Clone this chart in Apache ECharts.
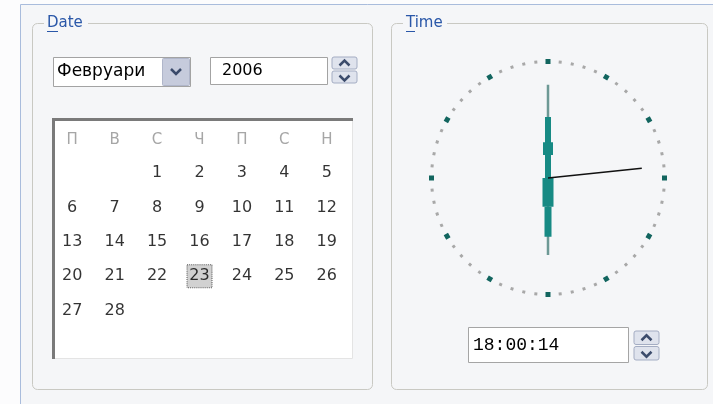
<!DOCTYPE html>
<html>
<head>
<meta charset="utf-8">
<script src="https://cdn.jsdelivr.net/npm/echarts@6/dist/echarts.min.js"></script>
<style>
  html, body { margin: 0; padding: 0; background: #fcfcfd; }
  #main { width: 713px; height: 404px; }
</style>
</head>
<body>
<div id="main"></div>
<script>
// data
var weekDays = ['П', 'В', 'С', 'Ч', 'П', 'С', 'Н'];
var weekRows = ['0', '1', '2', '3', '4', '5'];
var monthName = 'Февруари';
var yearText = '2006';
var days = [1, 2, 3, 4, 5, 6, 7, 8, 9, 10, 11, 12, 13, 14,
  15, 16, 17, 18, 19, 20, 21, 22, 23, 24, 25, 26, 27, 28];
var firstWeekday = 2; // 1 февруари 2006 е сряда
var selectedDay = 23;
var timeHours = 18;
var timeMinutes = 0;
var timeSeconds = 14;

var uiFont = '"DejaVu Sans", sans-serif';
var panelBg = '#f5f6f8';

function cellOf(d) {
  var p = d - 1 + firstWeekday;
  return [p % 7, Math.floor(p / 7)];
}
var dayData = days.map(function (d) {
  return { name: String(d), value: cellOf(d) };
});

function pad2(n) { return (n < 10 ? '0' : '') + n; }
var timeText = timeHours + ':' + pad2(timeMinutes) + ':' + pad2(timeSeconds);

// hand angles on a 0..60 dial
var minuteAngle = timeMinutes;
var hourAngle = (timeHours % 12) * 5 + timeMinutes / 12;
var secondAngle = timeSeconds;

function hand(a, r0, r1, width, color, z) {
  return {
    type: 'line', coordinateSystem: 'polar', polarIndex: 0,
    symbol: 'none', silent: true, z: z,
    lineStyle: { width: width, color: color, cap: 'butt' },
    data: [[r0, a], [r1, a]]
  };
}

function spin(x, y, w, h) {
  var half = h / 2;
  var cx = x + w / 2;
  return [
    { type: 'rect', shape: { x: x, y: y, width: w, height: half - 1, r: 2 },
      style: { fill: '#dfe3ed', stroke: '#a4adc3' }, z: -5 },
    { type: 'rect', shape: { x: x, y: y + half + 1, width: w, height: half - 1, r: 2 },
      style: { fill: '#dfe3ed', stroke: '#a4adc3' }, z: -5 },
    { type: 'polyline', shape: { points: [[cx - 5, y + half / 2 + 2], [cx, y + half / 2 - 3], [cx + 5, y + half / 2 + 2]] },
      style: { stroke: '#3c4c6c', lineWidth: 2.5, fill: 'none' }, z: -4 },
    { type: 'polyline', shape: { points: [[cx - 5, y + half + half / 2 - 1], [cx, y + half + half / 2 + 4], [cx + 5, y + half + half / 2 - 1]] },
      style: { stroke: '#3c4c6c', lineWidth: 2.5, fill: 'none' }, z: -4 }
  ];
}

var graphics = [
  { type: 'rect', shape: { x: 20.5, y: 4.5, width: 700, height: 420 },
    style: { fill: panelBg, stroke: '#a9bcdc' }, z: -10 },
  // group boxes
  { type: 'rect', shape: { x: 32.5, y: 23.5, width: 340, height: 366, r: 5 },
    style: { fill: 'none', stroke: '#c9c9c3' }, z: -9 },
  { type: 'rect', shape: { x: 391.5, y: 23.5, width: 316, height: 366, r: 5 },
    style: { fill: 'none', stroke: '#c9c9c3' }, z: -9 },
  { type: 'rect', shape: { x: 44, y: 15, width: 44, height: 16 }, style: { fill: panelBg }, z: -8 },
  { type: 'rect', shape: { x: 403, y: 15, width: 44, height: 16 }, style: { fill: panelBg }, z: -8 },
  { type: 'text', x: 47, y: 23, style: { text: 'Date', fill: '#2a57a8', font: '15px ' + uiFont, verticalAlign: 'middle' }, z: -7 },
  { type: 'line', shape: { x1: 47, y1: 31.5, x2: 58, y2: 31.5 }, style: { stroke: '#2a57a8', lineWidth: 1 }, z: -7 },
  { type: 'text', x: 406, y: 23, style: { text: 'Time', fill: '#2a57a8', font: '15px ' + uiFont, verticalAlign: 'middle' }, z: -7 },
  { type: 'line', shape: { x1: 406, y1: 31.5, x2: 415, y2: 31.5 }, style: { stroke: '#2a57a8', lineWidth: 1 }, z: -7 },
  // month combo
  { type: 'rect', shape: { x: 53.5, y: 57.5, width: 137, height: 29 },
    style: { fill: '#ffffff', stroke: '#a3a3a3' }, z: -6 },
  { type: 'rect', shape: { x: 162.5, y: 58.5, width: 27, height: 27, r: 1 },
    style: { fill: '#c6cbdc', stroke: '#b0b6ca' }, z: -5 },
  { type: 'polyline', shape: { points: [[171, 69], [176, 74], [181, 69]] },
    style: { stroke: '#3a4a6a', lineWidth: 2.5, fill: 'none' }, z: -4 },
  { type: 'text', x: 57, y: 72, style: { text: monthName, fill: '#000', font: '17px ' + uiFont, verticalAlign: 'middle' }, z: -4 },
  // year box
  { type: 'rect', shape: { x: 210.5, y: 57.5, width: 117, height: 27 },
    style: { fill: '#ffffff', stroke: '#a3a3a3' }, z: -6 },
  { type: 'text', x: 222, y: 71, style: { text: yearText, fill: '#000', font: '16px ' + uiFont, verticalAlign: 'middle' }, z: -4 },
  // calendar box
  { type: 'rect', shape: { x: 52.5, y: 118.5, width: 300, height: 240 },
    style: { fill: '#ffffff', stroke: '#e4e4e4' }, z: -6 },
  { type: 'line', shape: { x1: 52, y1: 119.5, x2: 353, y2: 119.5 }, style: { stroke: '#7a7a7a', lineWidth: 3 }, z: -5 },
  { type: 'line', shape: { x1: 53.5, y1: 118, x2: 53.5, y2: 359 }, style: { stroke: '#7a7a7a', lineWidth: 3 }, z: -5 },
  // time box
  { type: 'rect', shape: { x: 468.5, y: 327.5, width: 160, height: 35 },
    style: { fill: '#ffffff', stroke: '#a5a5a5' }, z: -6 },
  { type: 'text', x: 473, y: 345.5, style: { text: timeText, fill: '#000', font: '18px "Liberation Mono", monospace', verticalAlign: 'middle' }, z: -4 }
].concat(spin(332, 57, 25, 26)).concat(spin(634, 331, 25, 29));

var chart = echarts.init(document.getElementById('main'));
var option = {
  animation: false,
  graphic: graphics,
  grid: { left: 51, top: 156, width: 297, height: 206 },
  xAxis: {
    type: 'category', position: 'top', data: weekDays,
    axisLine: { show: false }, axisTick: { show: false }, splitLine: { show: false },
    axisLabel: { color: '#a6a6a6', fontSize: 15, fontFamily: uiFont, margin: 8 }
  },
  yAxis: {
    type: 'category', data: weekRows, inverse: true, show: false
  },
  polar: [
    { center: [548, 178], radius: 115 },
    { center: [548, 178], radius: 114 }
  ],
  angleAxis: [
    { polarIndex: 0, type: 'value', min: 0, max: 60, interval: 1, startAngle: 90, clockwise: true,
      axisLine: { show: false }, axisLabel: { show: false }, splitLine: { show: false },
      axisTick: { show: true, length: 3, lineStyle: { color: '#a8a8a8', width: 3 } }, z: 3 },
    { polarIndex: 1, type: 'value', min: 0, max: 60, interval: 5, startAngle: 90, clockwise: true,
      axisLine: { show: false }, axisLabel: { show: false }, splitLine: { show: false },
      axisTick: { show: true, length: 5, lineStyle: { color: '#12655f', width: 5 } }, z: 4 }
  ],
  radiusAxis: [
    { polarIndex: 0, min: 0, max: 1, show: false },
    { polarIndex: 1, min: 0, max: 1, show: false }
  ],
  series: [
    {
      type: 'scatter', silent: true, z: 2,
      symbol: 'rect', symbolSize: [25, 23],
      itemStyle: { color: '#c6c6c6', borderColor: '#3a3a3a', borderWidth: 1, borderType: 'dotted' },
      data: [cellOf(selectedDay)]
    },
    {
      type: 'scatter', silent: true, z: 3,
      symbolSize: 1, itemStyle: { color: 'rgba(0,0,0,0)' },
      label: { show: true, position: 'inside', formatter: '{b}', color: '#000', fontSize: 16, fontFamily: uiFont },
      data: dayData
    },
    // minute hand
    hand(minuteAngle, 0, 0.81, 2.5, '#6d9995', 5),
    hand(minuteAngle, 0, 0.53, 6, '#178a84', 6),
    hand(minuteAngle, 0.2, 0.31, 10, '#178a84', 6),
    // hour hand
    hand(hourAngle, 0, 0.67, 2.5, '#6d9995', 5),
    hand(hourAngle, 0, 0.25, 11, '#178a84', 6),
    hand(hourAngle, 0.25, 0.51, 7, '#178a84', 6),
    // second hand
    hand(secondAngle, 0, 0.82, 1.5, '#111111', 7)
  ]
};
chart.setOption(option);
</script>
</body>
</html>
